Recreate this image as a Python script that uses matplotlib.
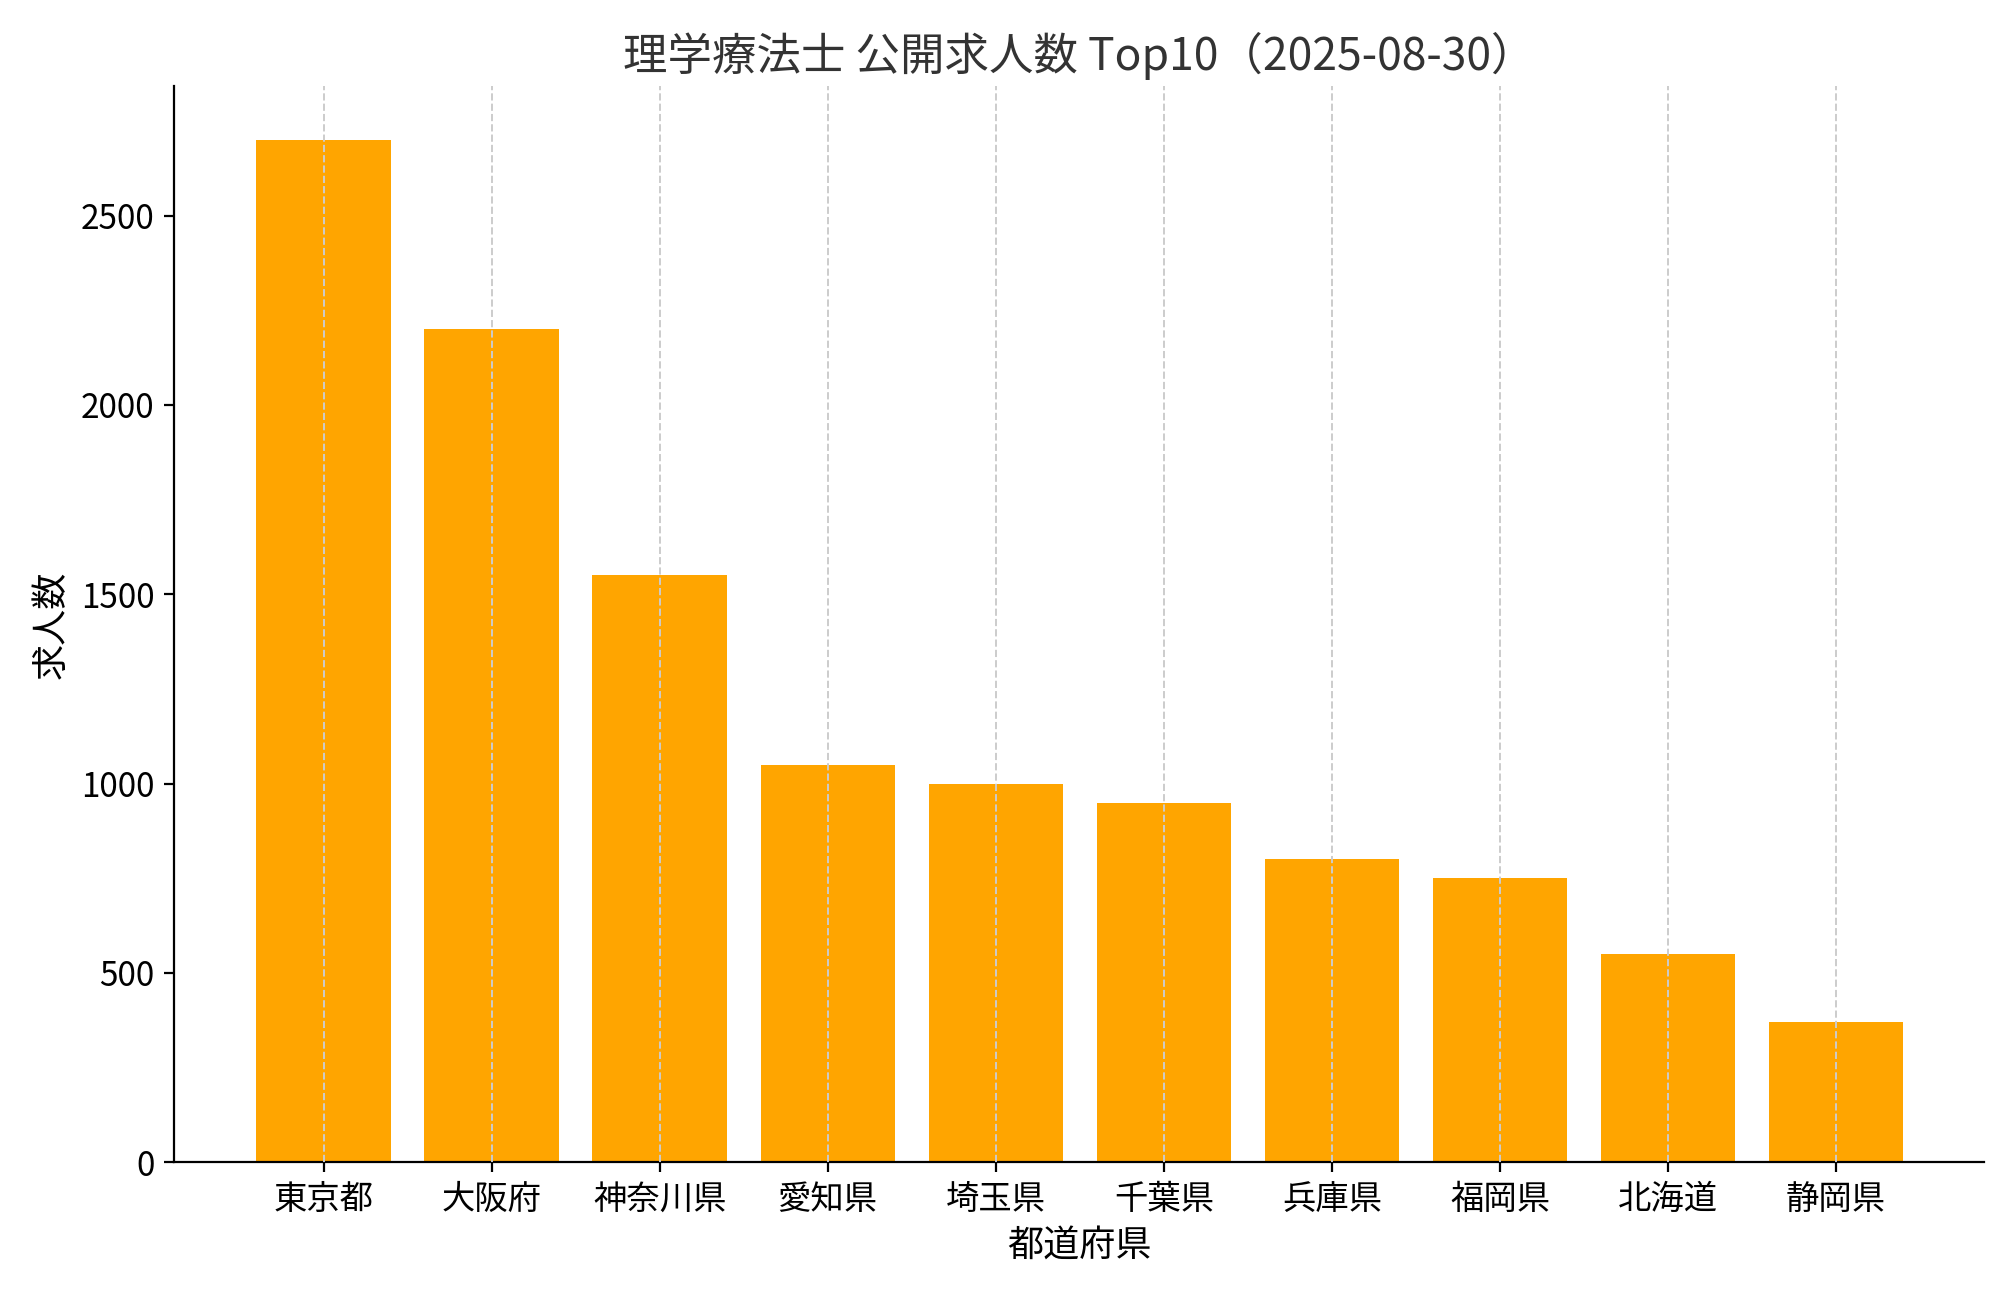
import matplotlib.pyplot as plt

plt.rcParams["font.family"] = "Noto Sans CJK JP"

# データ
prefectures = ["東京都", "大阪府", "神奈川県", "愛知県", "埼玉県",
               "千葉県", "兵庫県", "福岡県", "北海道", "静岡県"]
job_counts = [2700, 2200, 1550, 1050, 1000, 950, 800, 750, 550, 370]

fig = plt.figure(figsize=(10, 6.45), dpi=200)
ax = fig.add_axes([0.087, 0.099, 0.905, 0.834])

x = range(len(prefectures))
ax.bar(x, job_counts, width=0.8, color="#FFA500", zorder=2)
ax.set_xticks(list(x))
ax.set_xticklabels(prefectures, fontsize=12)
ax.tick_params(axis="y", labelsize=12)
ax.set_xlim(-0.89, 9.88)
ax.set_ylim(0, 2841)
ax.set_yticks([0, 500, 1000, 1500, 2000, 2500])

ax.grid(axis="x", linestyle="--", color="#cccccc", linewidth=0.7, zorder=3)
ax.set_axisbelow(False)
ax.spines["top"].set_visible(False)
ax.spines["right"].set_visible(False)

ax.set_title("理学療法士 公開求人数 Top10（2025-08-30）", fontsize=16, color="#333333")
ax.set_xlabel("都道府県", fontsize=13)
ax.set_ylabel("求人数", fontsize=13)

fig.savefig("out.png", dpi=200)
plt.close()
